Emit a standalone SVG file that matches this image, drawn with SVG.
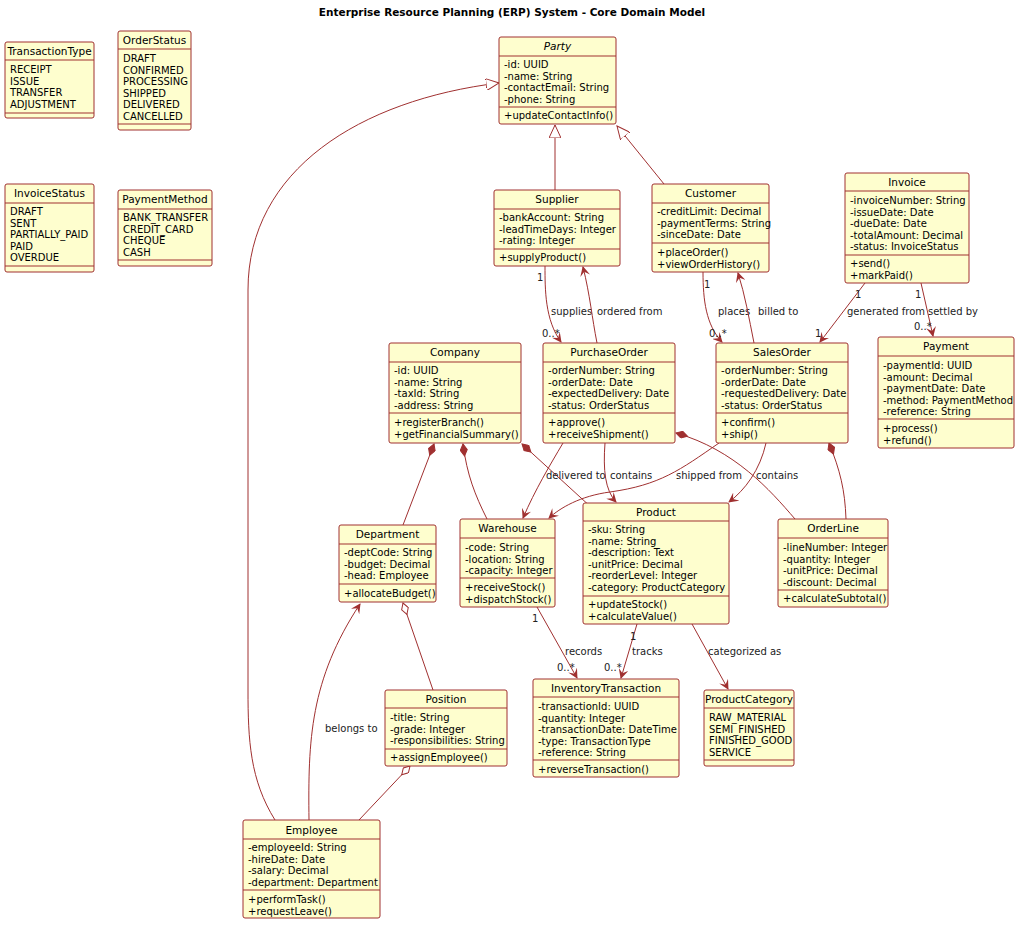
<svg xmlns="http://www.w3.org/2000/svg" width="1024" height="929" viewBox="0 0 1024 929">
<defs>
<style>
.b{fill:#FEFECE;stroke:#A03030;stroke-width:1}
.s{stroke:#A03030;stroke-width:1}
text{font-family:"DejaVu Sans",sans-serif;font-size:10px;fill:#000}
.t{text-anchor:middle;font-size:10.5px}
.l{font-size:10px;fill:#222}
.c{fill:none;stroke:#A03030;stroke-width:1}
</style>
<marker id="a" viewBox="0 0 10 10" refX="9" refY="5" markerWidth="10" markerHeight="10" orient="auto" markerUnits="userSpaceOnUse"><path d="M0,0 L10,5 L0,10 L4,5 Z" fill="#A03030"/></marker>
<marker id="g" viewBox="0 0 14 12" refX="13" refY="6" markerWidth="14" markerHeight="12" orient="auto" markerUnits="userSpaceOnUse"><path d="M0,0 L13,6 L0,12 Z" fill="#fff" stroke="#A03030"/></marker>
<marker id="d" viewBox="0 0 14 8" refX="13" refY="4" markerWidth="14" markerHeight="8" orient="auto" markerUnits="userSpaceOnUse"><path d="M1,4 L7,0.5 L13,4 L7,7.5 Z" fill="#A03030" stroke="#A03030"/></marker>
<marker id="o" viewBox="0 0 14 8" refX="13" refY="4" markerWidth="14" markerHeight="8" orient="auto" markerUnits="userSpaceOnUse"><path d="M1,4 L7,0.5 L13,4 L7,7.5 Z" fill="#fff" stroke="#A03030"/></marker>
</defs>
<rect width="1024" height="929" fill="#fff"/>
<text x="512" y="16" text-anchor="middle" style="font-weight:bold;font-size:10.5px">Enterprise Resource Planning (ERP) System - Core Domain Model</text>

<g id="connectors">
<path class="c" d="M275,820 C250,780 248,740 248,690 L248,290 C248,170 360,100 499,83" marker-end="url(#g)"/>
<path class="c" d="M555,190 L555,125" marker-end="url(#g)"/>
<path class="c" d="M664,184 L617,126" marker-end="url(#g)"/>
<path class="c" d="M545,266 C545,290 545,320 561,342" marker-end="url(#a)"/>
<text class="l" x="537" y="281">1</text><text class="l" x="551" y="315">supplies</text><text class="l" x="542" y="337">0..*</text>
<path class="c" d="M597,343 C592,318 590,295 583,267" marker-end="url(#a)"/>
<text class="l" x="597" y="315">ordered from</text>
<path class="c" d="M703,272 C703,300 706,325 722,342" marker-end="url(#a)"/>
<text class="l" x="704" y="288">1</text><text class="l" x="718" y="315">places</text><text class="l" x="709" y="337">0..*</text>
<path class="c" d="M754,343 C749,318 745,295 738,273" marker-end="url(#a)"/>
<text class="l" x="758" y="315">billed to</text>
<path class="c" d="M865,283 L820,342" marker-end="url(#a)"/>
<text class="l" x="855" y="298">1</text><text class="l" x="847" y="315">generated from</text><text class="l" x="815" y="337">1</text>
<path class="c" d="M921,283 L933,336" marker-end="url(#a)"/>
<text class="l" x="915" y="298">1</text><text class="l" x="928" y="315">settled by</text><text class="l" x="914" y="330">0..*</text>
<path class="c" d="M403,525 L434,444" marker-end="url(#d)"/>
<path class="c" d="M487,519 C475,495 467,475 463,444" marker-end="url(#d)"/>
<path class="c" d="M592,508 L522,444" marker-end="url(#d)"/>
<path class="c" d="M563,443 C550,465 535,490 523,518" marker-end="url(#a)"/>
<text class="l" x="546" y="479">delivered to</text>
<path class="c" d="M605,443 C603,470 605,490 616,502" marker-end="url(#a)"/>
<text class="l" x="610" y="479">contains</text>
<path class="c" d="M795,519 C770,490 735,450 676,433" marker-end="url(#d)"/>
<path class="c" d="M719,443 C680,470 660,485 610,492 C580,496 560,508 549,518" marker-end="url(#a)"/>
<text class="l" x="676" y="479">shipped from</text>
<path class="c" d="M766,443 C760,470 745,490 729,502" marker-end="url(#a)"/>
<text class="l" x="756" y="479">contains</text>
<path class="c" d="M846,519 C845,490 840,470 829,443" marker-end="url(#d)"/>
<path class="c" d="M309,820 C308,740 310,680 360,604" marker-end="url(#a)"/>
<text class="l" x="325" y="732">belongs to</text>
<path class="c" d="M433,690 L403,603" marker-end="url(#o)"/>
<path class="c" d="M359,820 L410,766" marker-end="url(#o)"/>
<path class="c" d="M537,607 L577,678" marker-end="url(#a)"/>
<text class="l" x="532" y="622">1</text><text class="l" x="565" y="655">records</text><text class="l" x="557" y="671">0..*</text>
<path class="c" d="M637,624 L621,678" marker-end="url(#a)"/>
<text class="l" x="630" y="640">1</text><text class="l" x="632" y="655">tracks</text><text class="l" x="604" y="671">0..*</text>
<path class="c" d="M692,624 L728,689" marker-end="url(#a)"/>
<text class="l" x="708" y="655">categorized as</text>
</g>

<g id="TransactionType"><rect class="b" x="5" y="42" width="89" height="76" rx="2"/><text class="t" x="49.5" y="55">TransactionType</text><line class="s" x1="5" y1="60" x2="94" y2="60"/><text x="10" y="73">RECEIPT</text><text x="10" y="84.5">ISSUE</text><text x="10" y="96">TRANSFER</text><text x="10" y="107.5">ADJUSTMENT</text><line class="s" x1="5" y1="113" x2="94" y2="113"/></g>
<g id="OrderStatus"><rect class="b" x="118" y="31" width="73" height="99" rx="2"/><text class="t" x="154.5" y="44">OrderStatus</text><line class="s" x1="118" y1="49" x2="191" y2="49"/><text x="123" y="62">DRAFT</text><text x="123" y="73.5">CONFIRMED</text><text x="123" y="85">PROCESSING</text><text x="123" y="96.5">SHIPPED</text><text x="123" y="108">DELIVERED</text><text x="123" y="119.5">CANCELLED</text><line class="s" x1="118" y1="124" x2="191" y2="124"/></g>
<g id="InvoiceStatus"><rect class="b" x="5" y="184" width="89" height="88" rx="2"/><text class="t" x="49.5" y="197">InvoiceStatus</text><line class="s" x1="5" y1="203" x2="94" y2="203"/><text x="10" y="215">DRAFT</text><text x="10" y="226.5">SENT</text><text x="10" y="238">PARTIALLY_PAID</text><text x="10" y="249.5">PAID</text><text x="10" y="261">OVERDUE</text><line class="s" x1="5" y1="266" x2="94" y2="266"/></g>
<g id="PaymentMethod"><rect class="b" x="118" y="190" width="94" height="76" rx="2"/><text class="t" x="165" y="203">PaymentMethod</text><line class="s" x1="118" y1="209" x2="212" y2="209"/><text x="123" y="221">BANK_TRANSFER</text><text x="123" y="232.5">CREDIT_CARD</text><text x="123" y="244">CHEQUE</text><text x="123" y="255.5">CASH</text><line class="s" x1="118" y1="260" x2="212" y2="260"/></g>

<g id="Party"><rect class="b" x="499" y="37" width="117" height="87" rx="2"/><text class="t" x="557.5" y="50" font-style="italic">Party</text><line class="s" x1="499" y1="56" x2="616" y2="56"/><text x="504" y="68">-id: UUID</text><text x="504" y="79.5">-name: String</text><text x="504" y="91">-contactEmail: String</text><text x="504" y="102.5">-phone: String</text><line class="s" x1="499" y1="107" x2="616" y2="107"/><text x="504" y="119">+updateContactInfo()</text></g>
<g id="Supplier"><rect class="b" x="494" y="190" width="126" height="76" rx="2"/><text class="t" x="557" y="203">Supplier</text><line class="s" x1="494" y1="209" x2="620" y2="209"/><text x="499" y="221">-bankAccount: String</text><text x="499" y="232.5">-leadTimeDays: Integer</text><text x="499" y="244">-rating: Integer</text><line class="s" x1="494" y1="249" x2="620" y2="249"/><text x="499" y="261">+supplyProduct()</text></g>
<g id="Customer"><rect class="b" x="652" y="184" width="117" height="88" rx="2"/><text class="t" x="710.5" y="197">Customer</text><line class="s" x1="652" y1="203" x2="769" y2="203"/><text x="657" y="215">-creditLimit: Decimal</text><text x="657" y="226.5">-paymentTerms: String</text><text x="657" y="238">-sinceDate: Date</text><line class="s" x1="652" y1="243" x2="769" y2="243"/><text x="657" y="256">+placeOrder()</text><text x="657" y="267.5">+viewOrderHistory()</text></g>
<g id="Invoice"><rect class="b" x="845" y="173" width="124" height="110" rx="2"/><text class="t" x="907" y="186">Invoice</text><line class="s" x1="845" y1="191" x2="969" y2="191"/><text x="850" y="204">-invoiceNumber: String</text><text x="850" y="215.5">-issueDate: Date</text><text x="850" y="227">-dueDate: Date</text><text x="850" y="238.5">-totalAmount: Decimal</text><text x="850" y="250">-status: InvoiceStatus</text><line class="s" x1="845" y1="255" x2="969" y2="255"/><text x="850" y="267">+send()</text><text x="850" y="278.5">+markPaid()</text></g>
<g id="Company"><rect class="b" x="389" y="343" width="132" height="100" rx="2"/><text class="t" x="455" y="356">Company</text><line class="s" x1="389" y1="362" x2="521" y2="362"/><text x="394" y="374">-id: UUID</text><text x="394" y="385.5">-name: String</text><text x="394" y="397">-taxId: String</text><text x="394" y="408.5">-address: String</text><line class="s" x1="389" y1="413" x2="521" y2="413"/><text x="394" y="426">+registerBranch()</text><text x="394" y="437.5">+getFinancialSummary()</text></g>
<g id="PurchaseOrder"><rect class="b" x="543" y="343" width="132" height="100" rx="2"/><text class="t" x="609" y="356">PurchaseOrder</text><line class="s" x1="543" y1="362" x2="675" y2="362"/><text x="548" y="374">-orderNumber: String</text><text x="548" y="385.5">-orderDate: Date</text><text x="548" y="397">-expectedDelivery: Date</text><text x="548" y="408.5">-status: OrderStatus</text><line class="s" x1="543" y1="413" x2="675" y2="413"/><text x="548" y="426">+approve()</text><text x="548" y="437.5">+receiveShipment()</text></g>
<g id="SalesOrder"><rect class="b" x="716" y="343" width="132" height="100" rx="2"/><text class="t" x="782" y="356">SalesOrder</text><line class="s" x1="716" y1="362" x2="848" y2="362"/><text x="721" y="374">-orderNumber: String</text><text x="721" y="385.5">-orderDate: Date</text><text x="721" y="397">-requestedDelivery: Date</text><text x="721" y="408.5">-status: OrderStatus</text><line class="s" x1="716" y1="413" x2="848" y2="413"/><text x="721" y="426">+confirm()</text><text x="721" y="437.5">+ship()</text></g>
<g id="Payment"><rect class="b" x="878" y="337" width="136" height="111" rx="2"/><text class="t" x="946" y="350">Payment</text><line class="s" x1="878" y1="356" x2="1014" y2="356"/><text x="883" y="369">-paymentId: UUID</text><text x="883" y="380.5">-amount: Decimal</text><text x="883" y="392">-paymentDate: Date</text><text x="883" y="403.5">-method: PaymentMethod</text><text x="883" y="415">-reference: String</text><line class="s" x1="878" y1="419" x2="1014" y2="419"/><text x="883" y="432">+process()</text><text x="883" y="443.5">+refund()</text></g>
<g id="Department"><rect class="b" x="339" y="525" width="97" height="77" rx="2"/><text class="t" x="387.5" y="538">Department</text><line class="s" x1="339" y1="544" x2="436" y2="544"/><text x="344" y="556">-deptCode: String</text><text x="344" y="567.5">-budget: Decimal</text><text x="344" y="579">-head: Employee</text><line class="s" x1="339" y1="584" x2="436" y2="584"/><text x="344" y="597">+allocateBudget()</text></g>
<g id="Warehouse"><rect class="b" x="460" y="519" width="95" height="88" rx="2"/><text class="t" x="507.5" y="532">Warehouse</text><line class="s" x1="460" y1="538" x2="555" y2="538"/><text x="465" y="551">-code: String</text><text x="465" y="562.5">-location: String</text><text x="465" y="574">-capacity: Integer</text><line class="s" x1="460" y1="578" x2="555" y2="578"/><text x="465" y="591">+receiveStock()</text><text x="465" y="602.5">+dispatchStock()</text></g>
<g id="Product"><rect class="b" x="583" y="503" width="146" height="121" rx="2"/><text class="t" x="656" y="516">Product</text><line class="s" x1="583" y1="521" x2="729" y2="521"/><text x="588" y="533">-sku: String</text><text x="588" y="544.5">-name: String</text><text x="588" y="556">-description: Text</text><text x="588" y="567.5">-unitPrice: Decimal</text><text x="588" y="579">-reorderLevel: Integer</text><text x="588" y="590.5">-category: ProductCategory</text><line class="s" x1="583" y1="596" x2="729" y2="596"/><text x="588" y="608">+updateStock()</text><text x="588" y="619.5">+calculateValue()</text></g>
<g id="OrderLine"><rect class="b" x="778" y="519" width="110" height="88" rx="2"/><text class="t" x="833" y="532">OrderLine</text><line class="s" x1="778" y1="538" x2="888" y2="538"/><text x="783" y="551">-lineNumber: Integer</text><text x="783" y="562.5">-quantity: Integer</text><text x="783" y="574">-unitPrice: Decimal</text><text x="783" y="585.5">-discount: Decimal</text><line class="s" x1="778" y1="590" x2="888" y2="590"/><text x="783" y="602">+calculateSubtotal()</text></g>
<g id="Position"><rect class="b" x="385" y="690" width="122" height="76" rx="2"/><text class="t" x="446" y="703">Position</text><line class="s" x1="385" y1="708" x2="507" y2="708"/><text x="390" y="721">-title: String</text><text x="390" y="732.5">-grade: Integer</text><text x="390" y="744">-responsibilities: String</text><line class="s" x1="385" y1="749" x2="507" y2="749"/><text x="390" y="761">+assignEmployee()</text></g>
<g id="InventoryTransaction"><rect class="b" x="533" y="679" width="146" height="98" rx="2"/><text class="t" x="606" y="692">InventoryTransaction</text><line class="s" x1="533" y1="697" x2="679" y2="697"/><text x="538" y="710">-transactionId: UUID</text><text x="538" y="721.5">-quantity: Integer</text><text x="538" y="733">-transactionDate: DateTime</text><text x="538" y="744.5">-type: TransactionType</text><text x="538" y="756">-reference: String</text><line class="s" x1="533" y1="760" x2="679" y2="760"/><text x="538" y="773">+reverseTransaction()</text></g>
<g id="ProductCategory"><rect class="b" x="704" y="690" width="90" height="76" rx="2"/><text class="t" x="749" y="703">ProductCategory</text><line class="s" x1="704" y1="708" x2="794" y2="708"/><text x="709" y="721">RAW_MATERIAL</text><text x="709" y="732.5">SEMI_FINISHED</text><text x="709" y="744">FINISHED_GOOD</text><text x="709" y="755.5">SERVICE</text><line class="s" x1="704" y1="760" x2="794" y2="760"/></g>
<g id="Employee"><rect class="b" x="243" y="820" width="137" height="98" rx="2"/><text class="t" x="311.5" y="834">Employee</text><line class="s" x1="243" y1="839" x2="380" y2="839"/><text x="248" y="851">-employeeId: String</text><text x="248" y="862.5">-hireDate: Date</text><text x="248" y="874">-salary: Decimal</text><text x="248" y="885.5">-department: Department</text><line class="s" x1="243" y1="890" x2="380" y2="890"/><text x="248" y="903">+performTask()</text><text x="248" y="914.5">+requestLeave()</text></g>
</svg>
